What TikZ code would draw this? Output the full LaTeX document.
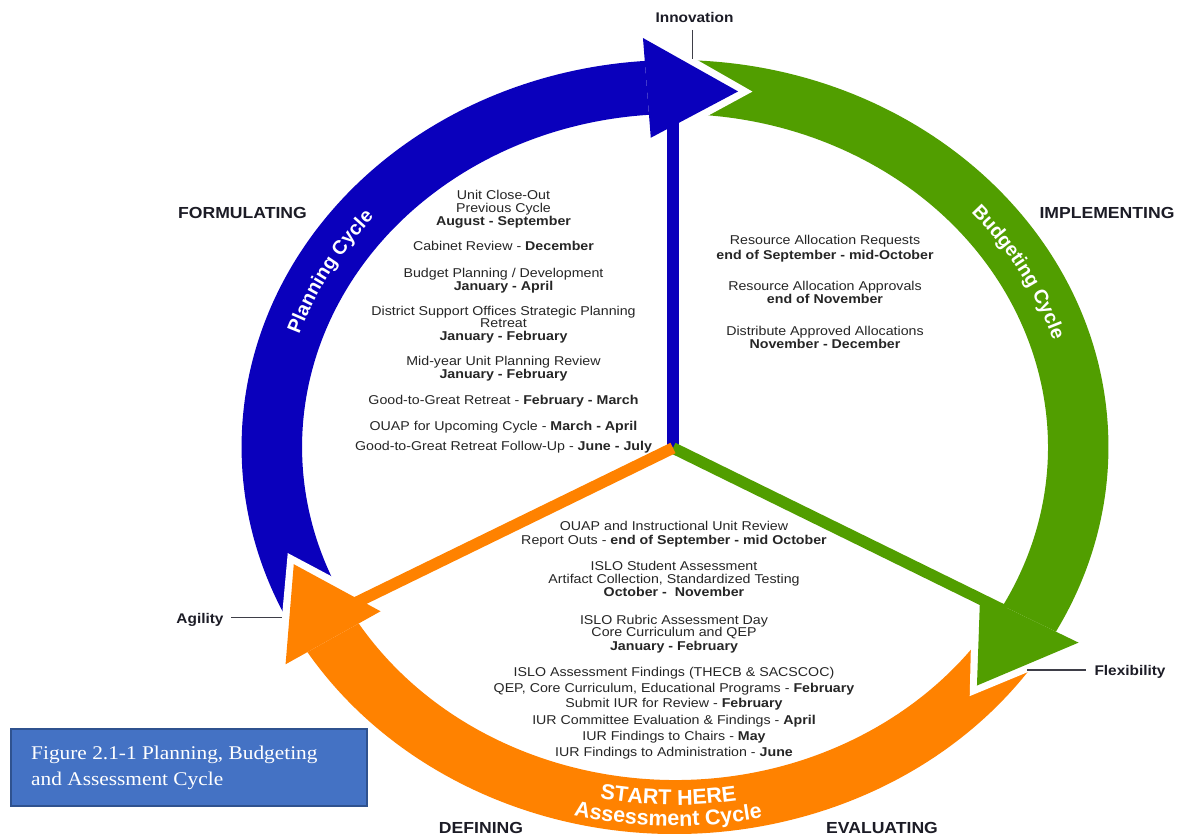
\documentclass[tikz,border=0pt]{standalone}
\usepackage{fontspec}
\setmainfont{Liberation Sans}
\newfontfamily\capfont{Liberation Serif}
\usetikzlibrary{decorations.text}

\definecolor{cycblue}{HTML}{0A00BC}
\definecolor{cycgreen}{HTML}{519E00}
\definecolor{cycorange}{HTML}{FF8200}
\definecolor{ink}{HTML}{262626}
\definecolor{labelink}{HTML}{1C1C26}
\definecolor{capfill}{HTML}{4472C4}
\definecolor{capedge}{HTML}{2F528F}

% Band of one cycle arrow: notched tail sitting on the previous head,
% running clockwise to the base of its own head.
% #1 colour, #2 tip angle of the previous arrow, #3 own tip angle
\newcommand\cycbody[3]{%
  \fill[#1] ({#2+10}:387) arc[start angle={#2+10}, end angle={#3+13}, radius=387]
    -- ({#3+13}:333) arc[start angle={#3+13}, end angle={#2+10}, radius=333]
    -- ({#2}:360) -- cycle;}
% White margin in front of a head
\newcommand\cycgap[1]{%
  \draw[white, line width=14, line join=miter] ({#1+13}:411) -- (#1:360) -- ({#1+13}:309);}
% Arrow head, #1 colour, #2 tip angle
\newcommand\cychead[2]{%
  \fill[#1] ({#2+13}:410) -- (#2:360) -- ({#2+13}:310) -- cycle;}
\newcommand\arcfont{\fontsize{19.5}{20}\selectfont\bfseries\color{white}}
\newcommand\startfont{\fontsize{21.5}{22}\selectfont\bfseries\color{white}}

\begin{document}
\begin{tikzpicture}[x=1pt, y=1pt,
  bodytext/.style={font=\fontsize{12.8}{13}\selectfont, text=ink, inner sep=0pt, anchor=base, xscale=1.11},
  sidelabel/.style={font=\fontsize{16}{17}\selectfont\bfseries, text=labelink, inner sep=0pt, anchor=base, xscale=1.1},
  cornertag/.style={font=\fontsize{14}{15}\selectfont\bfseries, text=labelink, inner sep=0pt, anchor=base, xscale=1.1},
  leaderline/.style={draw=labelink!85, line width=1.1},
  spokeline/.style={line width=11.5},
  captiontext/.style={font=\capfont\fontsize{19.4}{20}\selectfont, text=white, inner sep=0pt, anchor=base west, xscale=1.1},
  arclabel/.style={decorate, decoration={text along path, text align=center, text={#1}}}
]
\useasboundingbox (0,0) rectangle (1177,-834);
\fill[white] (0,0) rectangle (1177,-834);

% ---- the three cycle arrows (ring slightly wider than tall) ----
\begin{scope}[shift={(675,-447)}, xscale=1.12]
  \cycbody{cycblue}{199}{81}
  \cycbody{cycgreen}{81}{-41.5}
  \cycbody{cycorange}{-41.5}{-161}
  \cycgap{81}
  \cycgap{-41.5}
  \cycgap{-161}
  \cychead{cycblue}{81}
  \cychead{cycgreen}{-41.5}
  \cychead{cycorange}{-161}
\end{scope}

% ---- spokes from the hub into each head ----
\coordinate (hub) at (673,-448);
\coordinate (bluespokeend) at (673,-118);
\coordinate (greenspokeend) at (1005,-611);
\coordinate (orangespokeend) at (345,-608);
\draw[spokeline, cycblue] (hub) -- (bluespokeend);
\draw[spokeline, cycgreen] (hub) -- (greenspokeend);
\draw[spokeline, cycorange] (hub) -- (orangespokeend);

% ---- curved labels on the arrows ----
\begin{scope}[shift={(675,-447)}]
  \path[arclabel={|\arcfont|Planning Cycle}]
    (181:396.5 and 353) arc[start angle=181, end angle=121, x radius=396.5, y radius=353];
  \path[arclabel={|\arcfont|Budgeting Cycle}]
    (59:396.5 and 353) arc[start angle=59, end angle=-1, x radius=396.5, y radius=353];
  \path[arclabel={|\startfont|START HERE}]
    (-131:401 and 358) arc[start angle=-131, end angle=-51, x radius=401, y radius=358];
  \path[arclabel={|\startfont|Assessment Cycle}]
    (-131:424 and 379) arc[start angle=-131, end angle=-51, x radius=424, y radius=379];
\end{scope}

% ---- phase names ----
\node[sidelabel] (formulating) at (242.5,-218.3) {FORMULATING};
\node[sidelabel] (implementing) at (1107,-218.3) {IMPLEMENTING};
\node[sidelabel] (defining) at (481,-833) {DEFINING};
\node[sidelabel] (evaluating) at (882,-833) {EVALUATING};

% ---- junction tags with leader lines ----
\node[cornertag] (innovation) at (694.5,-23) {Innovation};
\coordinate (innovA) at (692.7,-30);
\coordinate (innovB) at (692.7,-59);
\draw[leaderline] (innovA) -- (innovB);
\node[cornertag] (agility) at (200,-623) {Agility};
\coordinate (agilA) at (231,-617.7);
\coordinate (agilB) at (282,-617.7);
\draw[leaderline] (agilA) -- (agilB);
\node[cornertag] (flexibility) at (1130,-675) {Flexibility};
\coordinate (flexA) at (1027,-670);
\coordinate (flexB) at (1086,-670);
\draw[leaderline] (flexA) -- (flexB);

% ---- planning schedule ----
\foreach \yy/\tt [count=\i] in {
  200/{Unit Close-Out},
  213/{Previous Cycle},
  226/{\textbf{August - September}},
  251/{Cabinet Review - \textbf{December}},
  277/{Budget Planning / Development},
  290/{\textbf{January - April}},
  315/{District Support Offices Strategic Planning},
  327.5/{Retreat},
  340/{\textbf{January - February}},
  365.5/{Mid-year Unit Planning Review},
  378/{\textbf{January - February}},
  404/{Good-to-Great Retreat - \textbf{February - March}},
  430/{OUAP for Upcoming Cycle - \textbf{March - April}},
  450/{Good-to-Great Retreat Follow-Up - \textbf{June - July}}}
  \node[bodytext] (plan\i) at (503.5,-\yy) {\tt};

% ---- budgeting schedule ----
\foreach \yy/\tt [count=\i] in {
  245/{Resource Allocation Requests},
  259.3/{\textbf{end of September - mid-October}},
  290/{Resource Allocation Approvals},
  303.3/{\textbf{end of November}},
  335/{Distribute Approved Allocations},
  348.3/{\textbf{November - December}}}
  \node[bodytext] (budget\i) at (825,-\yy) {\tt};

% ---- assessment schedule ----
\foreach \yy/\tt [count=\i] in {
  530.7/{OUAP and Instructional Unit Review},
  544/{Report Outs - \textbf{end of September - mid October}},
  570.7/{ISLO Student Assessment},
  583.3/{Artifact Collection, Standardized Testing},
  596.7/{\textbf{October -\ \ November}},
  624/{ISLO Rubric Assessment Day},
  636.7/{Core Curriculum and QEP},
  650/{\textbf{January - February}},
  676.7/{ISLO Assessment Findings (THECB \& SACSCOC)},
  692.7/{QEP, Core Curriculum, Educational Programs - \textbf{February}},
  707.3/{Submit IUR for Review - \textbf{February}},
  724/{IUR Committee Evaluation \& Findings - \textbf{April}},
  740.7/{IUR Findings to Chairs - \textbf{May}},
  756/{IUR Findings to Administration - \textbf{June}}}
  \node[bodytext] (assess\i) at (674,-\yy) {\tt};

% ---- figure caption box ----
\node[draw=capedge, line width=2, fill=capfill, minimum width=356, minimum height=77,
      inner sep=0pt, anchor=north west] (capbox) at (10,-727.5) {};
\node[captiontext] (capline1) at (31,-759) {Figure 2.1-1 Planning, Budgeting};
\node[captiontext] (capline2) at (31,-785) {and Assessment Cycle};
\end{tikzpicture}
\end{document}
